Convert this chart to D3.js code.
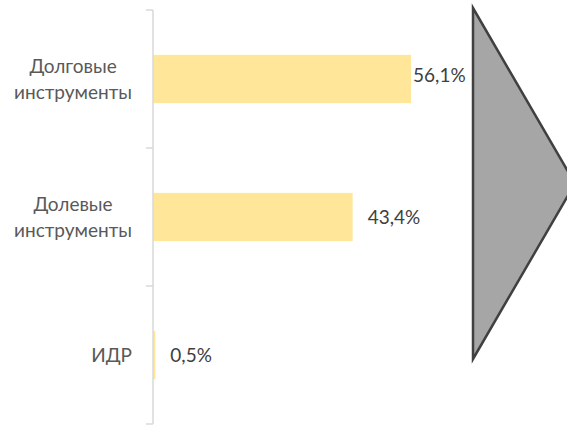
<!DOCTYPE html>
<html>
<head>
<meta charset="utf-8">
<script src="https://cdn.jsdelivr.net/npm/d3@7"></script>
<style>
  body { margin: 0; background: #fff; }
  text { font-family: Lato, "Open Sans", sans-serif; }
</style>
</head>
<body>
<svg id="chart" width="567" height="426"></svg>
<script>
// data
var categories = ["Долговые инструменты", "Долевые инструменты", "ИДР"]
var label_lines = [["Долговые", "инструменты"], ["Долевые", "инструменты"], ["ИДР"]]
var shares = [56.1, 43.4, 0.5]
var share_labels = ["56,1%", "43,4%", "0,5%"]

var svg = d3.select("#chart")

var axis_x = 153
var y = d3.scaleBand()
  .domain(categories)
  .range([10, 424])
  .paddingInner(0.65)
  .paddingOuter(0.325)

var x = d3.scaleLinear()
  .domain([0, 60])
  .range([axis_x, axis_x + 276])

// arrow shape on the right
var tri = [[473, 8], [575, 183.5], [473, 359]]
svg.append("path")
  .attr("d", d3.line()(tri) + "Z")
  .attr("fill", "#a6a6a6")
  .attr("stroke", "#404040")
  .attr("stroke-width", 2.5)
  .attr("stroke-linejoin", "miter")

// bars
svg.selectAll(".bar")
  .data(shares)
  .enter().append("rect")
  .attr("class", "bar")
  .attr("x", axis_x)
  .attr("y", (d, i) => y(categories[i]))
  .attr("width", d => x(d) - x(0))
  .attr("height", y.bandwidth())
  .attr("fill", "#ffe699")

// category axis: line and ticks at band boundaries
var step = y.step()
var ticks = d3.range(categories.length + 1).map(i => 10 + i * step)
svg.append("line")
  .attr("x1", axis_x).attr("x2", axis_x)
  .attr("y1", 10).attr("y2", 424)
  .attr("stroke", "#d9d9d9").attr("stroke-width", 1.5)
svg.selectAll(".tick")
  .data(ticks)
  .enter().append("line")
  .attr("class", "tick")
  .attr("x1", axis_x - 7).attr("x2", axis_x)
  .attr("y1", d => d).attr("y2", d => d)
  .attr("stroke", "#d9d9d9").attr("stroke-width", 1.5)

// category labels, block right-aligned, lines centred in the block
var label_right = 132
var lh = 26
var fs = 19
categories.forEach((c, i) => {
  var cy = y(c) + y.bandwidth() / 2
  var lines = label_lines[i]
  var g = svg.append("g")
  var texts = lines.map((l, j) => g.append("text")
    .attr("y", cy + (j - (lines.length - 1) / 2) * lh)
    .attr("dy", "0.35em")
    .attr("font-size", fs)
    .attr("fill", "#595959")
    .attr("text-anchor", "middle")
    .text(l))
  var w = d3.max(texts, t => t.node().getComputedTextLength())
  texts.forEach(t => t.attr("x", label_right - w / 2))
})

// value labels
svg.selectAll(".val")
  .data(shares)
  .enter().append("text")
  .attr("class", "val")
  .attr("x", (d, i) => x(d) + (i === 0 ? 2 : 15))
  .attr("y", (d, i) => y(categories[i]) + y.bandwidth() / 2 - (i === 0 ? 4 : 0))
  .attr("dy", "0.35em")
  .attr("font-size", fs)
  .attr("fill", "#404040")
  .text((d, i) => share_labels[i])
</script>
</body>
</html>
